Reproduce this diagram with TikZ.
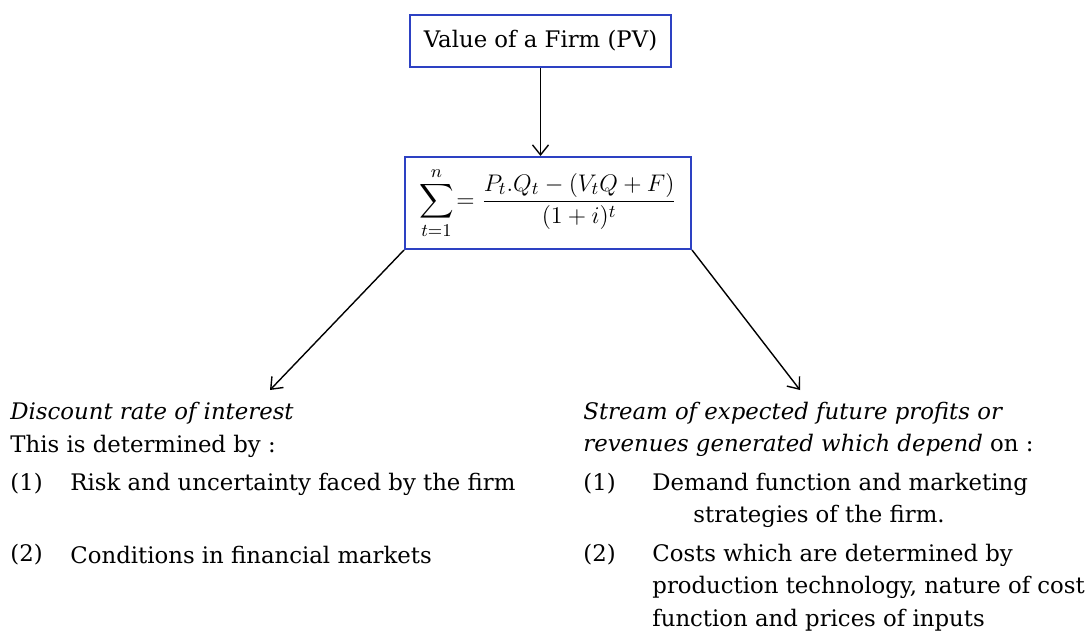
\documentclass[tikz,border=0pt]{standalone}
\usepackage{fontspec}
\setmainfont{DejaVu Serif}
\usepackage{amsmath}
\usetikzlibrary{arrows.meta}
\definecolor{boxblue}{RGB}{45,65,195}

\begin{document}
\begin{tikzpicture}[x=0.5pt,y=-0.5pt,
  every node/.style={font=\fontsize{11.4}{13}\selectfont,inner sep=0pt},
  firmbox/.style={draw=boxblue,line width=1pt},
  txt/.style={anchor=west},
  arr/.style={-{Straight Barb[length=5pt,width=8pt]},line width=0.7pt}]
\useasboundingbox (0,0) rectangle (1085,639);
% boxes:
\node[firmbox,minimum width=130.5pt,minimum height=26pt] (value) at (540.5,41) {Value of a Firm (PV)};
\node[firmbox,minimum width=143pt,minimum height=46pt,font=\fontsize{12.6}{14}\selectfont] (pv) at (548,203)
  {$\displaystyle\sum_{t=1}^{n}\!=\frac{P_t.Q_t-(V_tQ+F)}{(1+i)^t}$};
% ends of the arrows:
\coordinate (lend) at (270,390);
\coordinate (rend) at (800,390);
\draw[arr] (value.south) -- (value.south |- pv.north);
\draw[arr] (pv.south west) -- (lend);
\draw[arr] (pv.south east) -- (rend);
% left column:
\node[txt] (disc) at (10,413) {\itshape Discount rate of interest};
\node[txt] (detby) at (10,446) {This is determined by :};
\node[txt] (lone) at (10,484) {(1)};
\node[txt] (risk) at (70,484) {Risk and uncertainty faced by the firm};
\node[txt] (ltwo) at (10,555) {(2)};
\node[txt] (cond) at (70,555) {Conditions in financial markets};
% right column:
\node[txt] (stream) at (583,413) {\itshape Stream of expected future profits or};
\node[txt] (revs) at (583,445) {\itshape revenues generated which depend \upshape on :};
\node[txt] (rone) at (583,484) {(1)};
\node[txt] (demand) at (652,484) {Demand function and marketing};
\node[txt] (strat) at (693,516) {strategies of the firm.};
\node[txt] (rtwo) at (583,555) {(2)};
\node[txt] (costs) at (652,555) {Costs which are determined by};
\node[txt] (prod) at (652,587) {production technology, nature of cost};
\node[txt] (func) at (652,620) {function and prices of inputs};
\end{tikzpicture}
\end{document}
